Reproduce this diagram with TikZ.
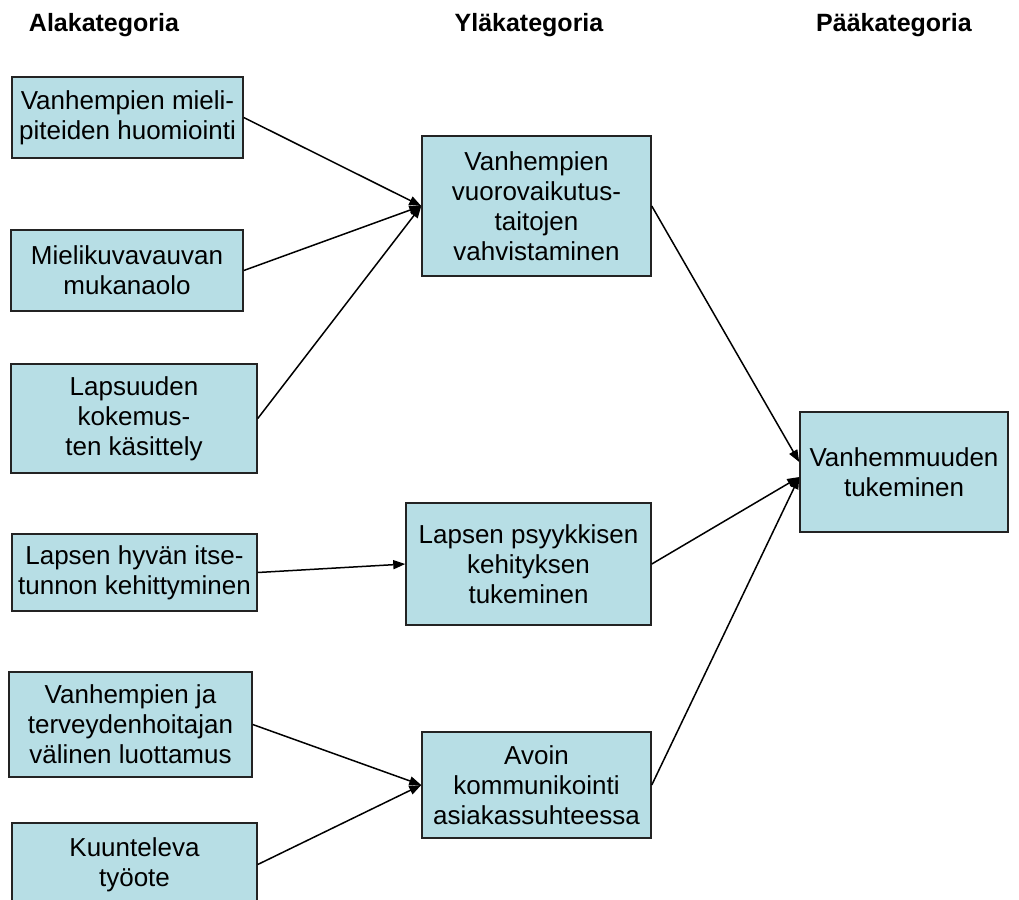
\documentclass[tikz,border=0pt]{standalone}
\usepackage{fontspec}
\setmainfont{Liberation Sans}
\usepackage{xcolor}
\definecolor{katfill}{RGB}{183,222,229}
\definecolor{katline}{RGB}{35,35,35}
\usepackage{tikz}
\usetikzlibrary{arrows.meta}
\newcommand{\katbox}[6]{\node[kat,minimum width={#4-#2},minimum height={#5-#3}] (#1) at ({(#2+#4)/2},{(#3+#5)/2}) {#6};}

\begin{document}
\begin{tikzpicture}[x=1pt,y=-1pt,
  kat/.style={draw=katline,fill=katfill,line width=1.5pt,inner sep=0pt,align=center,font=\fontsize{26}{30}\selectfont},
  otsikko/.style={font=\bfseries\fontsize{25}{30}\selectfont},
  pil/.style={-{Triangle[length=12pt,width=9pt]},line width=1.5pt}]
\useasboundingbox (0,0) rectangle (1019,899);
% ---- otsikot ----
\node[otsikko] (h1) at (104,25) {Alakategoria};
\node[otsikko] (h2) at (529,25) {Yläkategoria};
\node[otsikko] (h3) at (894,25) {Pääkategoria};
% ---- alakategoriat ----
\katbox{a1}{12}{77}{243}{158}{Vanhempien mieli-\\piteiden huomiointi}
\katbox{a2}{11}{230}{243}{311}{Mielikuvavauvan\\mukanaolo}
\katbox{a3}{11}{364}{257}{473}{Lapsuuden\\kokemus-\\ten käsittely}
\katbox{a4}{12}{534}{257}{611}{Lapsen hyvän itse-\\tunnon kehittyminen}
\katbox{a5}{9}{672}{252}{777}{Vanhempien ja\\terveydenhoitajan\\välinen luottamus}
\katbox{a6}{12}{823}{257}{906}{Kuunteleva\\työote}
% ---- yläkategoriat ----
\katbox{y1}{422}{136}{651}{276}{Vanhempien\\vuorovaikutus-\\taitojen\\vahvistaminen}
\katbox{y2}{406}{503}{651}{625}{Lapsen psyykkisen\\kehityksen\\tukeminen}
\katbox{y3}{422}{732}{651}{838}{Avoin\\kommunikointi\\asiakassuhteessa}
% ---- pääkategoria ----
\katbox{p1}{800}{412}{1008}{532}{Vanhemmuuden\\tukeminen}
% ---- nuolet ----
\draw[pil] (a1.east) -- (y1.west);
\draw[pil] (a2.east) -- (y1.west);
\draw[pil] (a3.east) -- (y1.west);
\draw[pil] (a4.east) -- (y2.west);
\draw[pil] (a5.east) -- (y3.west);
\draw[pil] (a6.east) -- (y3.west);
\draw[pil] (y1.east) -- ([yshift=10pt]p1.west);
\draw[pil] (y2.east) -- ([yshift=-5pt]p1.west);
\draw[pil] (y3.east) -- ([yshift=-5pt]p1.west);
\end{tikzpicture}
\end{document}
